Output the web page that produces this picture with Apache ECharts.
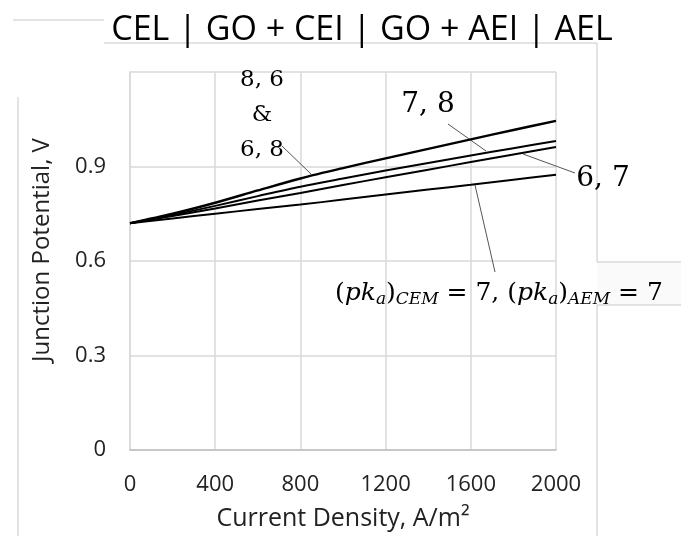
<!DOCTYPE html>
<html>
<head>
<meta charset="utf-8">
<script src="https://cdn.jsdelivr.net/npm/echarts@6/dist/echarts.min.js"></script>
<style>
html,body{margin:0;padding:0;background:#fff;}
#chart{width:681px;height:536px;}
</style>
</head>
<body>
<div id="chart"></div>
<script>
// ---- data ----
const currentDensity = [0, 200, 400, 600, 800, 1000, 1200, 1400, 1600, 1800, 2000];
const pk86_68 = [0.720, 0.750, 0.785, 0.824, 0.862, 0.895, 0.926, 0.956, 0.986, 1.016, 1.045];
const pk78    = [0.720, 0.746, 0.775, 0.806, 0.836, 0.862, 0.887, 0.911, 0.935, 0.958, 0.981];
const pk67    = [0.720, 0.743, 0.767, 0.792, 0.816, 0.841, 0.866, 0.890, 0.914, 0.938, 0.962];
const pk77    = [0.720, 0.735, 0.750, 0.765, 0.779, 0.795, 0.811, 0.827, 0.842, 0.858, 0.874];
const xTickLabels = ['0', '400', '800', '1200', '1600', '2000'];
const yTickLabels = ['0', '0.3', '0.6', '0.9', ''];
const titleText = 'CEL | GO + CEI | GO + AEI | AEL';
const xName = 'Current Density, A/m\u00B2';
const yName = 'Junction Potential, V';

function pairs(ys) { return currentDensity.map((x, i) => [x, ys[i]]); }

const chart = echarts.init(document.getElementById('chart'), null, {renderer: 'canvas'});
const sans = '"Open Sans", "Noto Sans", sans-serif';
const serif = '"DejaVu Serif", serif';
const gridColor = '#d9d9d9';
const frameColor = '#c8c8c8';

function seg(x1, y1, x2, y2, color, w) {
  return {type: 'line', silent: true, z: 1,
    shape: {x1, y1, x2, y2},
    style: {stroke: color || frameColor, lineWidth: w || 1}};
}
function label(text, x, y, size) {
  return {type: 'text', silent: true, z: 10, x, y,
    style: {text, font: size + 'px ' + serif, fill: '#000', align: 'center', verticalAlign: 'middle'}};
}

const option = {
  animation: false,
  backgroundColor: '#fff',
  title: {
    text: titleText, left: 357, top: 8, textAlign: 'center',
    textStyle: {fontFamily: sans, fontSize: 34, fontWeight: 'normal', color: '#000'}
  },
  grid: {left: 130, right: 125, top: 72, bottom: 85, containLabel: false},
  xAxis: {
    type: 'value', min: 0, max: 2000, interval: 400,
    name: xName, nameLocation: 'middle', nameGap: 56,
    nameTextStyle: {fontFamily: sans, fontSize: 25, color: '#222'},
    axisLine: {show: true, lineStyle: {color: '#bfbfbf', width: 1.5}},
    axisTick: {show: false},
    splitLine: {show: true, lineStyle: {color: gridColor, width: 1.5}},
    axisLabel: {
      margin: 24, fontFamily: sans, fontSize: 22, color: '#222',
      formatter: (v) => xTickLabels[Math.round(v / 400)] ?? ''
    }
  },
  yAxis: {
    type: 'value', min: 0, max: 1.2, interval: 0.3,
    name: yName, nameLocation: 'middle', nameGap: 76,
    nameTextStyle: {fontFamily: sans, fontSize: 24, color: '#222', padding: [0, 0, 0, 22]},
    axisLine: {show: true, lineStyle: {color: gridColor, width: 1.5}},
    axisTick: {show: false},
    splitLine: {show: true, lineStyle: {color: gridColor, width: 1.5}},
    axisLabel: {
      margin: 24, fontFamily: sans, fontSize: 22, color: '#222',
      formatter: (v) => yTickLabels[Math.round(v / 0.3)] ?? ''
    }
  },
  series: [
    {name: '8,6 & 6,8', type: 'line', data: pairs(pk86_68), smooth: 0.3, showSymbol: false,
     lineStyle: {color: '#000', width: 2.4}, z: 5},
    {name: '7,8', type: 'line', data: pairs(pk78), smooth: 0.3, showSymbol: false,
     lineStyle: {color: '#000', width: 2}, z: 5},
    {name: '6,7', type: 'line', data: pairs(pk67), smooth: 0.3, showSymbol: false,
     lineStyle: {color: '#000', width: 2}, z: 5},
    {name: '7,7', type: 'line', data: pairs(pk77), smooth: 0.3, showSymbol: false,
     lineStyle: {color: '#000', width: 2}, z: 5}
  ],
  graphic: [
    // frame remnants
    seg(13, 20, 104, 20),
    seg(104, 43, 597, 43),
    seg(597, 43, 597, 262),
    seg(597, 262, 681, 262),
    {type: 'rect', silent: true, z: 0, shape: {x: 597.5, y: 262.5, width: 84, height: 42}, style: {fill: '#fafafa'}},
    seg(597, 305, 681, 305),
    seg(597, 305, 597, 536),
    seg(18, 97, 18, 536),
    // leader lines
    seg(282, 146, 311, 174, '#555', 1),
    seg(448, 124, 486, 151, '#555', 1),
    seg(575, 173, 523, 154, '#555', 1),
    seg(475, 185, 495, 272, '#555', 1),
    // annotation texts
    label('8, 6', 262, 80, 23),
    label('&', 262, 115, 23),
    label('6, 8', 262, 150, 23),
    label('7, 8', 428, 105, 28),
    label('6, 7', 603, 179, 28),
    {type: 'text', silent: true, z: 10, x: 335, y: 293,
     style: {
       text: '{m|(}{i|pk}{s|a}{m|)}{s|CEM}{m| = 7, (}{i|pk}{s|a}{m|)}{s|AEM}{m| = 7}',
       verticalAlign: 'middle', align: 'left',
       rich: {
         m: {font: '25px ' + serif, fill: '#000', lineHeight: 30},
         i: {font: 'italic 25px ' + serif, fill: '#000', lineHeight: 30},
         s: {font: 'italic 17px ' + serif, fill: '#000', lineHeight: 15, verticalAlign: 'bottom'}
       }
     }}
  ]
};
chart.setOption(option);
</script>
</body>
</html>
